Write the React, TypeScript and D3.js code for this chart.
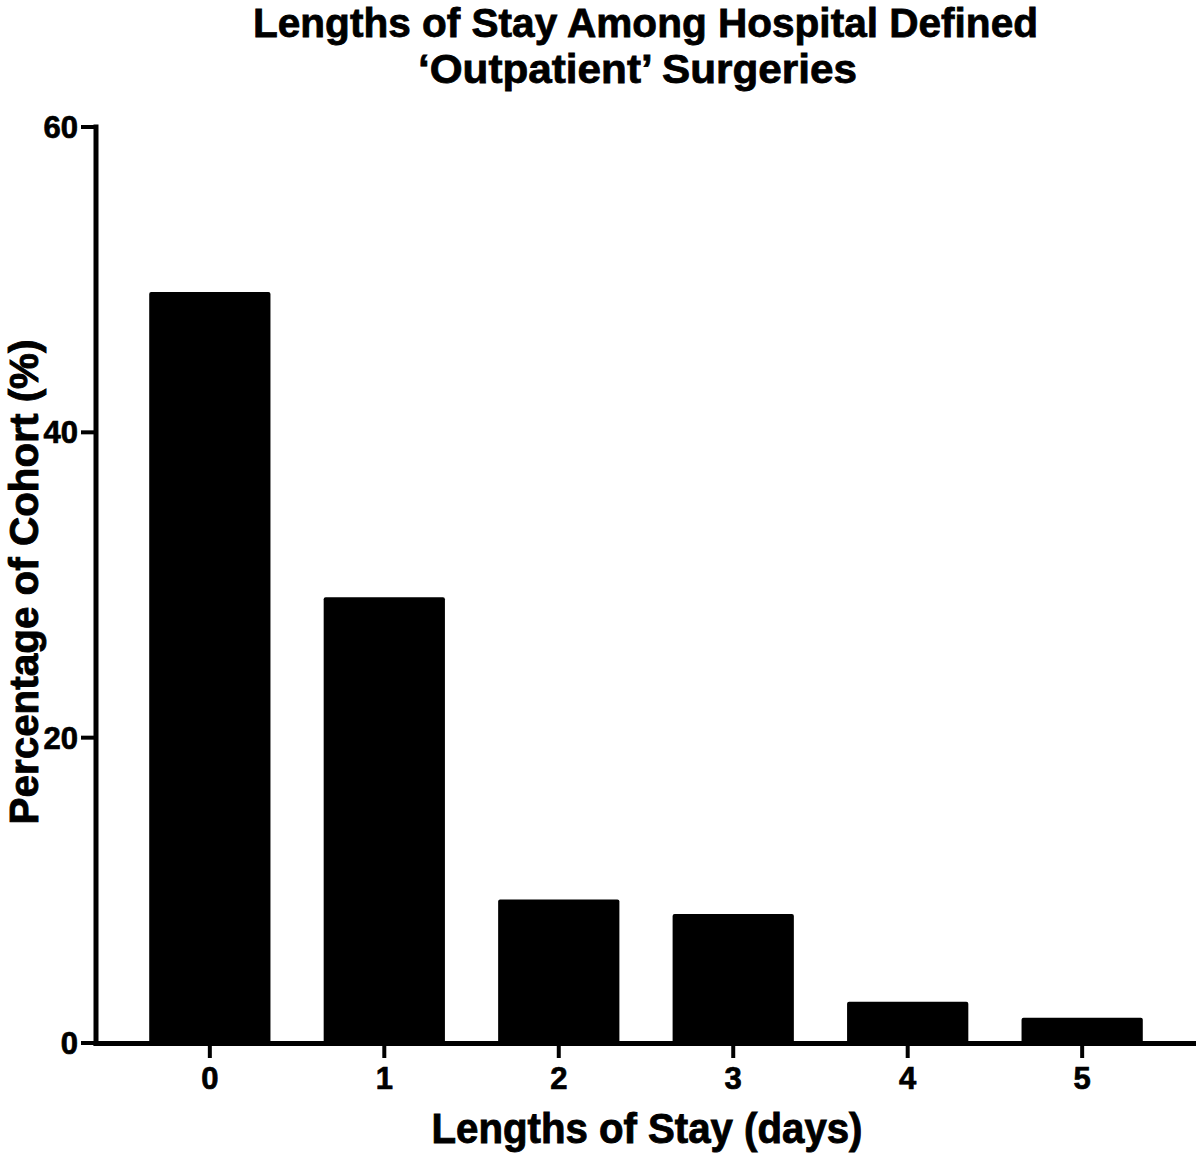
import { useEffect, useRef } from 'react'
import * as d3 from 'd3'

const stayDays = ['0', '1', '2', '3', '4', '5']
const cohortPercent = [49.2, 29.2, 9.4, 8.45, 2.7, 1.65]
const yTicks = [0, 20, 40, 60]

const titleLines = ['Lengths of Stay Among Hospital Defined', '\u2018Outpatient\u2019 Surgeries']
const xLabel = 'Lengths of Stay (days)'
const yLabel = 'Percentage of Cohort (%)'

const W = 1200
const H = 1157
const FONT = '"Liberation Sans", Arial, Helvetica, sans-serif'

/**
 * 입원 기간 막대 차트
 */
export default function App() {
  const svgRef = useRef<SVGSVGElement>(null)

  useEffect(() => {
    if (!svgRef.current) return
    const svg = d3.select(svgRef.current)
    svg.selectAll('*').remove()

    const axisX = 96
    const axisY = 1043
    const xScale = d3.scaleBand().domain(stayDays).range([axisX, 1196]).paddingInner(0.305).paddingOuter(0.305)
    const yScale = d3.scaleLinear().domain([0, 60]).range([axisY, 127])

    // 굵은 글자 스타일
    const bold = (sel: d3.Selection<SVGTextElement, any, any, any>, size: number, sw = 0.7) =>
      sel
        .style('font-family', FONT)
        .style('font-weight', 'bold')
        .style('font-size', `${size}px`)
        .attr('fill', '#000')
        .attr('stroke', '#000')
        .attr('stroke-width', sw)

    // 막대
    svg
      .selectAll('.bar')
      .data(cohortPercent)
      .enter()
      .append('rect')
      .attr('class', 'bar')
      .attr('x', (_, i) => xScale(stayDays[i]) || 0)
      .attr('y', d => yScale(d))
      .attr('width', xScale.bandwidth())
      .attr('height', d => yScale(0) - yScale(d) + 2)
      .attr('rx', 2)
      .attr('fill', '#000')

    // y 축
    svg
      .append('line')
      .attr('x1', axisX)
      .attr('x2', axisX)
      .attr('y1', yScale(60) - 2.5)
      .attr('y2', axisY + 2.5)
      .attr('stroke', '#000')
      .attr('stroke-width', 5)

    const yT = svg.append('g')
    yT.selectAll('line')
      .data(yTicks)
      .enter()
      .append('line')
      .attr('x1', 81)
      .attr('x2', axisX)
      .attr('y1', d => yScale(d))
      .attr('y2', d => yScale(d))
      .attr('stroke', '#000')
      .attr('stroke-width', 4)
    bold(
      yT.selectAll('text')
        .data(yTicks)
        .enter()
        .append('text')
        .attr('x', 78)
        .attr('y', d => yScale(d) + 11)
        .attr('text-anchor', 'end')
        .text(d => d),
      31
    )

    // x 축
    svg
      .append('line')
      .attr('x1', axisX - 2.5)
      .attr('x2', 1196)
      .attr('y1', axisY + 0.5)
      .attr('y2', axisY + 0.5)
      .attr('stroke', '#000')
      .attr('stroke-width', 5)

    const xT = svg.append('g')
    xT.selectAll('line')
      .data(stayDays)
      .enter()
      .append('line')
      .attr('x1', d => (xScale(d) || 0) + xScale.bandwidth() / 2)
      .attr('x2', d => (xScale(d) || 0) + xScale.bandwidth() / 2)
      .attr('y1', axisY)
      .attr('y2', 1058)
      .attr('stroke', '#000')
      .attr('stroke-width', 4)
    bold(
      xT.selectAll('text')
        .data(stayDays)
        .enter()
        .append('text')
        .attr('x', d => (xScale(d) || 0) + xScale.bandwidth() / 2)
        .attr('y', 1089)
        .attr('text-anchor', 'middle')
        .text(d => d),
      31
    )

    // 축 제목
    bold(
      svg
        .append('text')
        .attr('x', 647)
        .attr('y', 1143)
        .attr('text-anchor', 'middle')
        .attr('textLength', 431)
        .attr('lengthAdjust', 'spacingAndGlyphs')
        .text(xLabel),
      42,
      0.9
    )

    bold(
      svg
        .append('text')
        .attr('transform', `translate(38,582) rotate(-90)`)
        .attr('text-anchor', 'middle')
        .attr('textLength', 485)
        .attr('lengthAdjust', 'spacingAndGlyphs')
        .text(yLabel),
      41,
      0.9
    )

    // 제목
    const titleWidths = [785, 439]
    const titleX = [645.5, 637.5]
    const titleY = [37, 83]
    titleLines.forEach((line, i) => {
      bold(
        svg
          .append('text')
          .attr('x', titleX[i])
          .attr('y', titleY[i])
          .attr('text-anchor', 'middle')
          .attr('textLength', titleWidths[i])
          .attr('lengthAdjust', 'spacingAndGlyphs')
          .text(line),
        41,
        0.8
      )
    })
  }, [])

  return (
    <svg
      ref={svgRef}
      width={W}
      height={H}
      style={{ position: 'absolute', left: 0, top: 0, background: '#fff' }}
    ></svg>
  )
}
